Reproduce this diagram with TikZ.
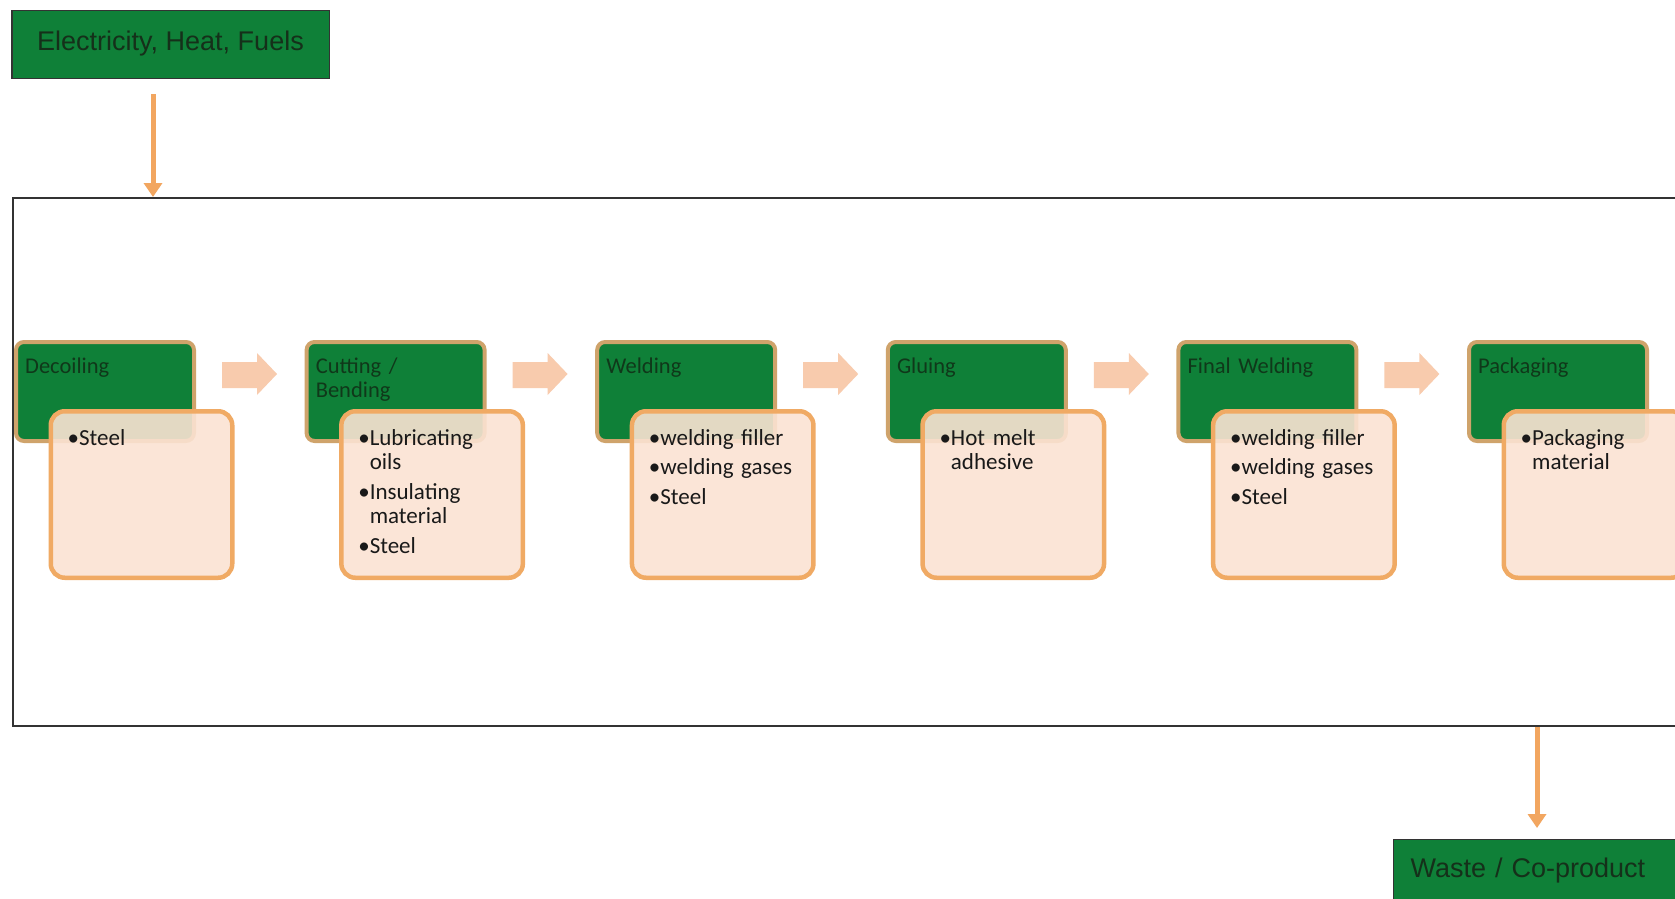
\documentclass[tikz,border=0pt]{standalone}
\usepackage{fontspec}
\setmainfont{Carlito}
\newfontfamily\arialf{Liberation Sans}
\usetikzlibrary{arrows.meta}
\definecolor{gr}{HTML}{0F8038}
\definecolor{grline}{HTML}{CFA36B}
\definecolor{peach}{HTML}{FBE3D3}
\definecolor{peachline}{HTML}{F0AA64}
\definecolor{chev}{HTML}{F8CBAD}
\definecolor{arr}{HTML}{F2A660}
\definecolor{ttl}{HTML}{10381A}
\definecolor{frame}{HTML}{333333}
\definecolor{boxtxt}{HTML}{15301A}

\newcommand\stagebox[4]{%
  \pgfmathsetmacro\stgx{14+290.6*#1}%
  \pgfmathsetmacro\stpx{\stgx+34.5}%
  \node[greenbox] (#2g) at (\stgx+91,391.5) {};
  \node[titletext] (#2t) at (\stgx+11,373) {#3};
  \node[peachbox] (#2p) at (\stpx+93,494.5) {};
  \node[itemtext] (#2i) at (\stpx+19,445) {#4};
}
\newcommand\chevron[1]{%
  \fill[chev,shift={(#1.east)}] (26,-29.5) -- (61,-29.5) -- (61,-38.5) -- (81,-17.5)
    -- (61,3.5) -- (61,-3.5) -- (26,-3.5) -- cycle;
}

\begin{document}
\begin{tikzpicture}[x=1pt,y=-1pt,
  greenbox/.style={draw=grline, line width=4pt, fill=gr, rounded corners=8pt,
    minimum width=178pt, minimum height=99pt, inner sep=0pt},
  titletext/.style={anchor=base west, inner sep=0pt, text width=165pt, align=left,
    text=ttl, font=\fontsize{22.5}{24.5}\selectfont},
  peachbox/.style={draw=peachline, line width=4.5pt, fill=peach, fill opacity=0.9,
    rounded corners=14pt, minimum width=181.5pt, minimum height=166.5pt, inner sep=0pt},
  itemtext/.style={anchor=base west, inner sep=0pt, text width=175pt, align=left,
    text=black!90, font=\fontsize{23}{24.5}\selectfont},
  topbox/.style={draw=frame, line width=1.5pt, fill=gr, text=boxtxt,
    font=\arialf\fontsize{27}{30}\selectfont, inner sep=0pt},
  oarrow/.style={draw=arr, line width=5pt, -{Triangle[width=18pt,length=14pt]}}
]
\useasboundingbox (0,0) rectangle (1675,899);
\clip (0,0) rectangle (1675,899);
\fill[white] (0,0) rectangle (1675,899);

% input box
\node[topbox, minimum width=317.5pt, minimum height=67.5pt] (src) at (170.5,44.5)
  {\raisebox{7pt}{Electricity, Heat, Fuels}};

% system boundary
\node[draw=frame, line width=1.5pt, anchor=north west, minimum width=1720pt,
  minimum height=528pt, inner sep=0pt] (sys) at (12,197) {};

\coordinate (s1) at (153,94);
\draw[oarrow] (s1) -- (s1 |- sys.north);

% stages
\stagebox{0}{dec}{Decoiling}{\textbullet Steel}
\stagebox{1}{cut}{Cutting /\\Bending}{\textbullet Lubricating\\\phantom{\textbullet}oils\\[5pt]\textbullet Insulating\\\phantom{\textbullet}material\\[5pt]\textbullet Steel}
\stagebox{2}{wel}{Welding}{\textbullet welding filler\\[5pt]\textbullet welding gases\\[5pt]\textbullet Steel}
\stagebox{3}{glu}{Gluing}{\textbullet Hot melt\\\phantom{\textbullet}adhesive}
\stagebox{4}{fin}{Final Welding}{\textbullet welding filler\\[5pt]\textbullet welding gases\\[5pt]\textbullet Steel}
\stagebox{5}{pac}{Packaging}{\textbullet Packaging\\\phantom{\textbullet}material}

\chevron{decg}
\chevron{cutg}
\chevron{welg}
\chevron{glug}
\chevron{fing}

% output box
\node[topbox, anchor=north west, text width=300pt, align=left, inner xsep=17pt,
  inner ysep=18pt, text height=20pt, text depth=40pt] (waste) at (1392.75,838.75)
  {Waste / Co-product};
\coordinate (w1) at (1537,828);
\draw[oarrow] (w1 |- sys.south) -- (w1);
\end{tikzpicture}
\end{document}
